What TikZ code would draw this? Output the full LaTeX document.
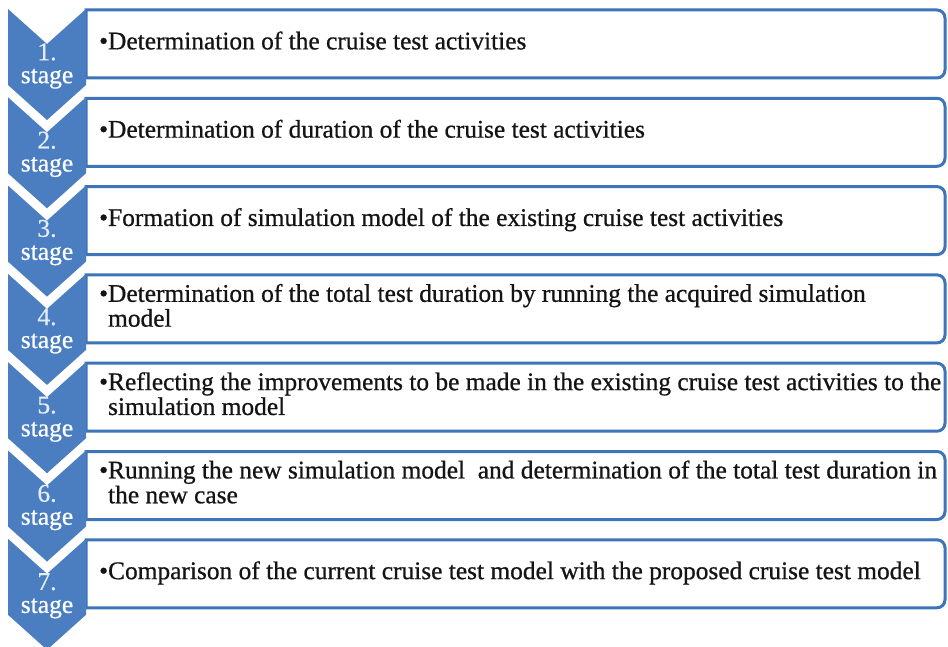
\documentclass[tikz,border=0pt]{standalone}
\usepackage{fontspec}
\setmainfont{Liberation Serif}[FakeBold=0.7]
\definecolor{chev}{RGB}{74,126,193}
\definecolor{boxline}{RGB}{61,116,186}
\tikzset{
  chevron/.style={fill=chev, draw=none},
  stagebox/.style={draw=boxline, line width=3pt, fill=white},
  stagelbl/.style={text=white, font=\fontsize{25.5}{23}\selectfont, align=center, inner sep=0pt},
  itemtxt/.style={text=black!92, font=\fontsize{25.4}{24}\selectfont, anchor=west, inner sep=0pt}
}
\newcommand\MkStage[3]{%
  \pgfmathsetmacro\tp{9+88.3*#1}%
  \pgfmathsetmacro\bt{\tp+1}%
  \pgfmathsetmacro\bb{\tp+69}%
  \pgfmathsetmacro\na{\tp+35}%
  \pgfmathsetmacro\nb{\tp+76}%
  \pgfmathsetmacro\nc{\tp+111}%
  \draw[stagebox] (86,-\bt) -- (937,-\bt) arc[start angle=90,end angle=0,radius=8]
     -- (945,{-\bb+8}) arc[start angle=0,end angle=-90,radius=8] -- (86,-\bb) -- cycle;
  \fill[chevron] (8,-\tp) -- (47,-\na) -- (86,-\tp) -- (86,-\nb)
     -- (47,-\nc) -- (8,-\nb) -- cycle;
  \node[stagelbl] (s#1) at (47,{-(\tp+57)}) {\textcolor{white!85!chev}{#2.}\\stage};
  \node[itemtxt] (t#1) at (99,-\na) {\textbullet\begin{tabular}[t]{@{}l@{}}#3\end{tabular}};
}
\begin{document}
\begin{tikzpicture}[x=1pt,y=1pt]
\useasboundingbox (0,0) rectangle (948,-647);
\fill[white] (0,0) rectangle (948,-647);
\MkStage{0}{1}{Determination of the cruise test activities}
\MkStage{1}{2}{Determination of duration of the cruise test activities}
\MkStage{2}{3}{Formation of simulation model of the existing cruise test activities}
\MkStage{3}{4}{Determination of the total test duration by running the acquired simulation\\model}
\MkStage{4}{5}{Reflecting the improvements to be made in the existing cruise test activities to the\\simulation model}
\MkStage{5}{6}{Running the new simulation model~ and determination of the total test duration in\\the new case}
\MkStage{6}{7}{Comparison of the current cruise test model with the proposed cruise test model}
\end{tikzpicture}
\end{document}
